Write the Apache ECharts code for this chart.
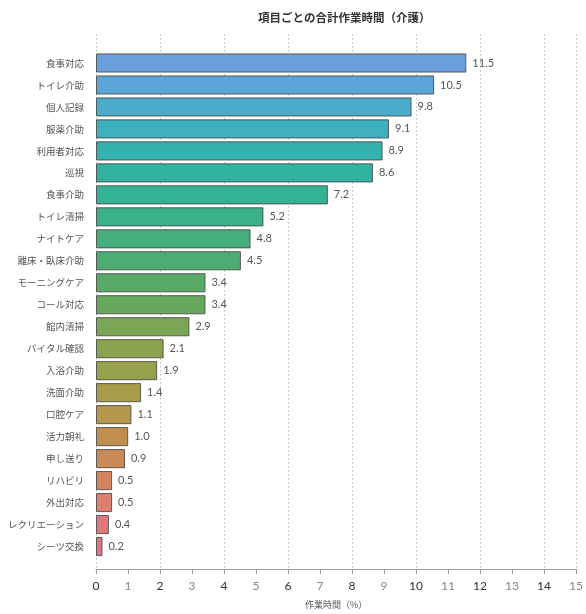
<!DOCTYPE html>
<html><head><meta charset="utf-8">
<script src="https://cdn.jsdelivr.net/npm/echarts@6/dist/echarts.min.js"></script>
<style>html,body{margin:0;padding:0;background:#fff}#c{width:586px;height:614px}</style>
</head><body><div id="c"></div>
<script>
const categories = ['食事対応','トイレ介助','個人記録','服薬介助','利用者対応','巡視','食事介助','トイレ清掃','ナイトケア','離床・臥床介助','モーニングケア','コール対応','館内清掃','バイタル確認','入浴介助','洗面介助','口腔ケア','活力朝礼','申し送り','リハビリ','外出対応','レクリエーション','シーツ交換'];
const values = [11.5,10.5,9.8,9.1,8.9,8.6,7.2,5.2,4.8,4.5,3.4,3.4,2.9,2.1,1.9,1.4,1.1,1.0,0.9,0.5,0.5,0.4,0.2];
const colors = ['#6a9fdb','#5ba6d6','#4aabca','#3dafbd','#35b1af','#31b2a1','#34b394','#3bb187','#44af7c','#4eac72','#5aaa67','#68a85e','#7aa555','#8ba350','#99a04c','#a89c4a','#b5964c','#c08f50','#c98a57','#d38562','#da806d','#de7a7b','#df738a'];
const FONT = '"Noto Sans CJK JP", "Noto Sans", sans-serif';
const NUMFONT = 'Lato, "Noto Sans", sans-serif';
const chart = echarts.init(document.getElementById('c'));
chart.setOption({
  animation: false,
  backgroundColor: '#fff',
  textStyle: { fontFamily: FONT },
  title: {
    text: '項目ごとの合計作業時間（介護）',
    left: 253, top: 7,
    textStyle: { fontSize: 11.5, fontWeight: 'bold', color: '#333', fontFamily: FONT }
  },
  grid: [
    { left: 96, right: 7, top: 34, bottom: 38 },
    { left: 96, right: 7, top: 52, bottom: 56.5 }
  ],
  xAxis: [
    {
      gridIndex: 0, type: 'value', min: 0, max: 15, interval: 1,
      axisLine: { show: true, lineStyle: { color: '#999', type: [2, 1], width: 1.2 } },
      axisTick: { show: true, length: 5, lineStyle: { color: '#999' } },
      splitLine: { show: false },
      axisLabel: {
        margin: 11,
        formatter: v => (v % 2 === 0 ? '{e|' + v + '}' : '{o|' + v + '}'),
        rich: {
          e: { fontSize: 12, color: '#333', fontFamily: NUMFONT },
          o: { fontSize: 12, color: '#888', fontFamily: NUMFONT }
        }
      },
      name: '作業時間（%）', nameLocation: 'middle', nameGap: 31,
      nameTextStyle: { fontSize: 9, color: '#555', fontFamily: FONT }
    },
    {
      gridIndex: 0, type: 'value', min: 0, max: 15, interval: 2, position: 'bottom',
      axisLine: { show: false }, axisTick: { show: false }, axisLabel: { show: false },
      splitLine: { show: true, lineStyle: { color: '#bbb', type: [1.5, 2.5], width: 1 } }
    },
    {
      gridIndex: 1, type: 'value', min: 0, max: 15, show: false
    }
  ],
  yAxis: [
    { gridIndex: 0, type: 'value', show: false },
    {
      gridIndex: 1, type: 'category', data: categories, inverse: true,
      axisLine: { show: false }, axisTick: { show: false },
      axisLabel: { fontSize: 9.5, color: '#555', margin: 12, fontFamily: FONT }
    }
  ],
  series: [{
    type: 'bar',
    xAxisIndex: 2, yAxisIndex: 1,
    data: values.map((v, i) => ({ value: v, itemStyle: { color: colors[i] } })),
    barCategoryGap: '13%',
    itemStyle: { borderColor: 'rgba(70,70,70,0.85)', borderWidth: 1 },
    label: {
      show: true, position: 'right', distance: 6,
      formatter: p => p.value.toFixed(1),
      fontSize: 11, color: '#555', fontFamily: NUMFONT
    }
  }]
});
</script></body></html>
